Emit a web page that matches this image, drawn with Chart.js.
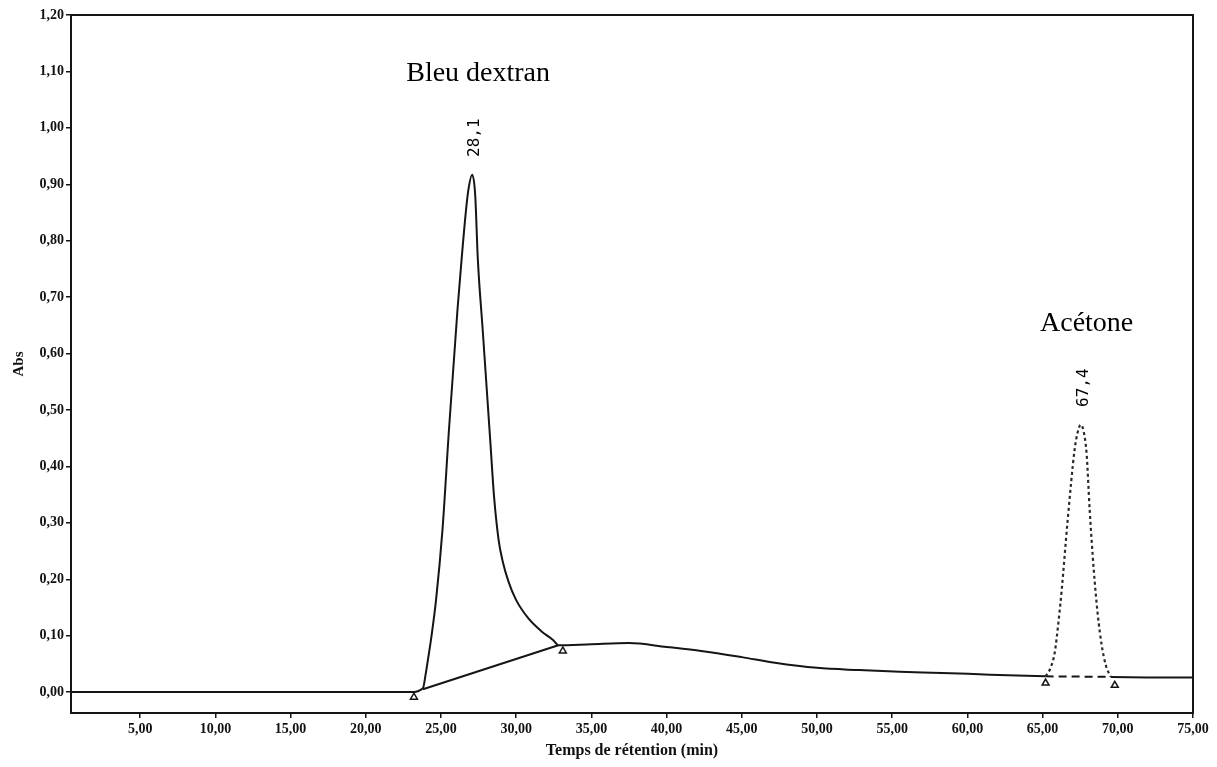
<!DOCTYPE html>
<html>
<head>
<meta charset="utf-8">
<script src="https://cdn.jsdelivr.net/npm/chart.js@4"></script>
<style>
  html, body { margin: 0; padding: 0; background: #fff; }
  #wrap { width: 1217px; height: 767px; }
</style>
</head>
<body>
<div id="wrap"><canvas id="chromChart" width="1217" height="767"></canvas></div>
<script>
// Axis ticks
const xTicks = [5, 10, 15, 20, 25, 30, 35, 40, 45, 50, 55, 60, 65, 70, 75];
const yTicks = [0, 0.1, 0.2, 0.3, 0.4, 0.5, 0.6, 0.7, 0.8, 0.9, 1.0, 1.1, 1.2];

// Main trace: baseline + Bleu dextran peak + tail up to acetone start
const timeMain = [0.4, 10, 20, 23.0, 23.8, 23.97, 24.13, 24.33, 24.67, 25.1, 25.53, 26.1, 26.37, 26.67, 26.83, 27.07,
  27.27, 27.45, 27.77, 28.27, 28.53, 28.83, 29.1, 29.5, 30.0, 30.8, 31.67, 32.47, 32.8,
  35.0, 37.5, 40.0, 42.3, 45.0, 47.2, 50.0, 52.8, 55.5, 58.3, 61.5, 65.2];
const absMain = [0, 0, 0, 0, 0.007, 0.030, 0.057, 0.092, 0.163, 0.288, 0.465, 0.679, 0.767, 0.856, 0.892, 0.917,
  0.883, 0.767, 0.643, 0.448, 0.346, 0.270, 0.232, 0.195, 0.163, 0.131, 0.108, 0.092, 0.083,
  0.085, 0.087, 0.080, 0.073, 0.062, 0.052, 0.043, 0.039, 0.036, 0.034, 0.031, 0.028];

// Acetone peak (dotted trace)
const timeAcetone = [65.2, 65.53, 65.8, 66.07, 66.27, 66.67, 67.13, 67.33, 67.53,
  67.73, 67.93, 68.13, 68.4, 68.67, 68.93, 69.2, 69.53];
const absAcetone = [0.028, 0.043, 0.069, 0.128, 0.181, 0.306, 0.430, 0.460, 0.474,
  0.462, 0.421, 0.323, 0.217, 0.137, 0.083, 0.048, 0.027];

// Tail after the acetone peak
const timeTail = [69.53, 72, 75];
const absTail = [0.027, 0.026, 0.026];

// Integration baselines
const timeBase1 = [23.8, 32.8];
const absBase1 = [0.005, 0.083];
const timeBase2 = [65.2, 69.53];
const absBase2 = [0.028, 0.027];

// Start / end markers
const timeMarks = [23.2, 33.1, 65.2, 69.8];
const absMarks = [-0.009, 0.073, 0.016, 0.012];

// Peak annotations
const peakNames = ['Bleu dextran', 'Acétone'];
const peakTimes = ['28,1', '67,4'];

const pts = (xs, ys) => xs.map((x, i) => ({ x: x, y: ys[i] }));
const ink = '#151515';

const frame = {
    id: 'frame',
    afterDraw(chart) {
        const { ctx, chartArea: a } = chart;
        ctx.save();
        ctx.strokeStyle = ink;
        ctx.lineWidth = 2;
        ctx.strokeRect(a.left, a.top, a.right - a.left, a.bottom - a.top);
        ctx.restore();
    }
};

const peakLabels = {
    id: 'peakLabels',
    afterDatasetsDraw(chart) {
        const { ctx, scales: { x, y } } = chart;
        const sources = [[timeMain, absMain], [timeAcetone, absAcetone]];
        ctx.save();
        ctx.fillStyle = '#000';
        sources.forEach(([ts, ys], i) => {
            const k = ys.indexOf(Math.max(...ys));
            const px = x.getPixelForValue(ts[k]);
            const py = y.getPixelForValue(ys[k]);
            ctx.font = '28px "Liberation Serif", "DejaVu Serif", serif';
            ctx.textAlign = 'center';
            ctx.textBaseline = 'middle';
            ctx.fillText(peakNames[i], px + 6, py - 101);
            ctx.save();
            ctx.translate(px + 3, py - 37);
            ctx.rotate(-Math.PI / 2);
            ctx.font = '16px "DejaVu Sans Mono", "Liberation Mono", monospace';
            ctx.fillText(peakTimes[i], 0, 0);
            ctx.restore();
        });
        ctx.restore();
    }
};

const tickFont = { family: '"Liberation Serif", "DejaVu Serif", serif', size: 14, weight: 'bold' };

new Chart(document.getElementById('chromChart'), {
    type: 'line',
    data: {
        datasets: [
            {
                data: pts(timeMain, absMain),
                borderColor: ink,
                borderWidth: 2,
                pointRadius: 0,
                cubicInterpolationMode: 'monotone'
            },
            {
                data: pts(timeAcetone, absAcetone),
                borderColor: '#2a2a2a',
                borderWidth: 2.2,
                borderDash: [3, 3],
                pointRadius: 0,
                cubicInterpolationMode: 'monotone'
            },
            {
                data: pts(timeTail, absTail),
                borderColor: ink,
                borderWidth: 2,
                pointRadius: 0
            },
            {
                data: pts(timeBase1, absBase1),
                borderColor: ink,
                borderWidth: 2,
                pointRadius: 0
            },
            {
                data: pts(timeBase2, absBase2),
                borderColor: ink,
                borderWidth: 2,
                borderDash: [8, 5],
                pointRadius: 0
            },
            {
                data: pts(timeMarks, absMarks),
                showLine: false,
                pointStyle: 'triangle',
                pointRadius: 4,
                pointBorderWidth: 1.5,
                pointBorderColor: ink,
                pointBackgroundColor: '#fff'
            }
        ]
    },
    options: {
        responsive: false,
        animation: false,
        events: [],
        layout: { padding: { top: 15, right: 24, left: 0, bottom: 0 } },
        plugins: {
            legend: { display: false },
            tooltip: { enabled: false }
        },
        scales: {
            x: {
                type: 'linear',
                min: 0.4,
                max: 75,
                afterBuildTicks: (s) => { s.ticks = xTicks.map(v => ({ value: v })); },
                afterFit: (s) => { s.height = 54; },
                grid: { drawOnChartArea: false, drawTicks: true, tickLength: 5, color: ink, lineWidth: 1.5 },
                border: { color: ink, width: 2 },
                ticks: {
                    color: '#111',
                    font: tickFont,
                    padding: 3,
                    maxRotation: 0,
                    callback: (v) => v.toFixed(2).replace('.', ',')
                },
                title: {
                    display: true,
                    text: 'Temps de rétention (min)',
                    color: '#111',
                    font: { family: '"Liberation Serif", "DejaVu Serif", serif', size: 16, weight: 'bold' },
                    padding: { bottom: 7, top: 0 }
                }
            },
            y: {
                min: -0.037,
                max: 1.2,
                afterBuildTicks: (s) => { s.ticks = yTicks.map(v => ({ value: v })); },
                afterFit: (s) => { s.width = 71; },
                grid: { drawOnChartArea: false, drawTicks: true, tickLength: 5, color: ink, lineWidth: 1.5 },
                border: { color: ink, width: 2 },
                ticks: {
                    color: '#111',
                    font: tickFont,
                    padding: 2,
                    callback: (v) => v.toFixed(2).replace('.', ',')
                },
                title: {
                    display: true,
                    text: 'Abs',
                    color: '#111',
                    font: { family: '"Liberation Serif", "DejaVu Serif", serif', size: 15, weight: 'bold' },
                    padding: { top: 10, bottom: 0 }
                }
            }
        }
    },
    plugins: [frame, peakLabels]
});
</script>
</body>
</html>
